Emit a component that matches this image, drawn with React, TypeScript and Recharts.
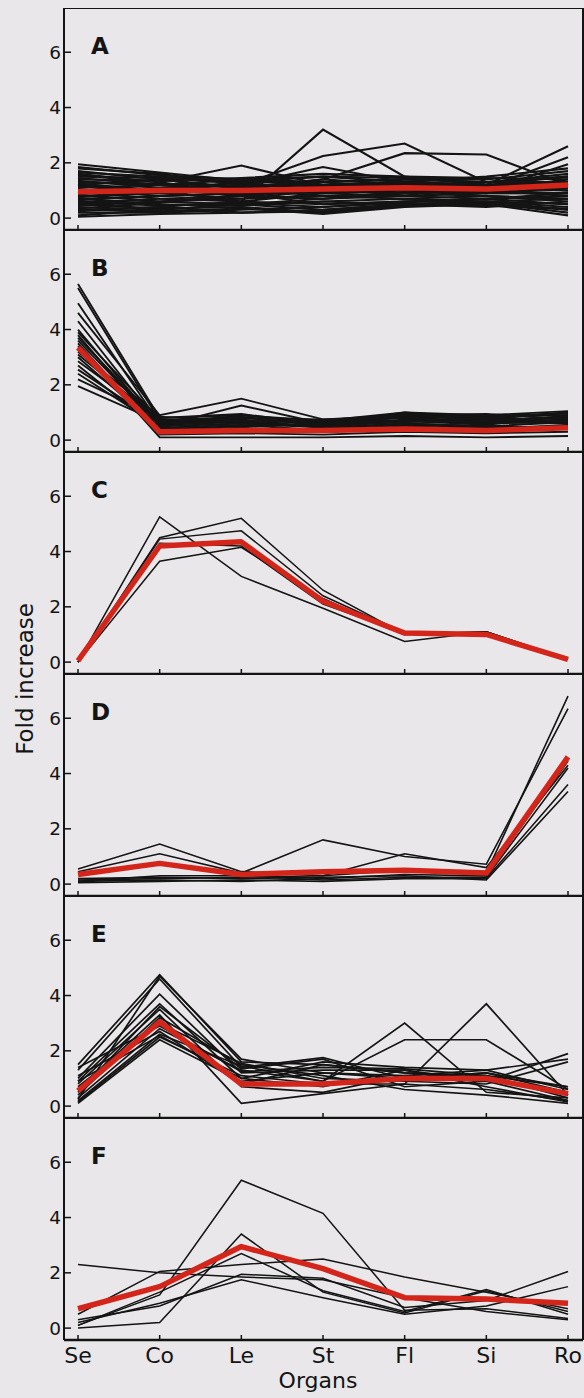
import { LineChart, Line, XAxis, YAxis, ReferenceLine } from "recharts";

const organs = ["Se", "Co", "Le", "St", "Fl", "Si", "Ro"];
const yTicks = [0, 2, 4, 6];

// one row per gene, values in organ order
const linesA = [
  [1.95, 1.65, 1.35, 1.2, 1.3, 1.2, 1.5],
  [1.85, 1.55, 1.4, 1.5, 1.45, 1.4, 1.7],
  [1.8, 1.6, 1.2, 1.85, 1.3, 1.5, 1.8],
  [1.7, 1.4, 1.1, 0.9, 1.0, 0.8, 0.6],
  [1.65, 1.5, 1.3, 1.3, 1.4, 1.3, 1.2],
  [1.55, 1.3, 0.9, 1.1, 0.8, 1.3, 1.5],
  [1.5, 1.45, 1.25, 1.0, 1.1, 0.9, 0.9],
  [1.45, 1.2, 1.0, 1.4, 1.2, 1.1, 1.3],
  [1.4, 1.35, 1.45, 1.6, 1.5, 1.45, 1.4],
  [1.35, 1.1, 0.8, 0.7, 0.9, 1.0, 0.8],
  [1.3, 1.25, 1.15, 1.2, 1.3, 1.2, 1.1],
  [1.25, 1.0, 1.3, 1.0, 1.1, 1.0, 1.4],
  [1.2, 1.4, 1.05, 0.8, 0.7, 0.8, 0.7],
  [1.15, 0.9, 0.7, 1.0, 1.2, 1.3, 1.6],
  [1.1, 1.2, 1.4, 1.3, 1.0, 1.1, 1.0],
  [1.05, 0.8, 0.9, 0.5, 0.6, 0.7, 0.5],
  [1.0, 1.1, 1.2, 1.15, 1.25, 1.15, 1.3],
  [0.95, 0.7, 0.6, 0.9, 1.0, 0.9, 1.1],
  [0.9, 1.0, 1.1, 1.3, 1.4, 1.3, 1.5],
  [0.85, 0.6, 0.5, 0.3, 0.5, 0.6, 0.4],
  [0.8, 0.9, 1.0, 0.9, 0.8, 0.9, 0.9],
  [0.75, 1.05, 1.3, 1.5, 1.3, 1.2, 1.2],
  [0.7, 0.5, 0.45, 0.6, 0.7, 0.6, 0.3],
  [0.65, 0.8, 0.9, 1.1, 1.0, 1.1, 1.0],
  [0.6, 0.45, 0.55, 0.4, 0.6, 0.7, 0.8],
  [0.55, 0.7, 0.8, 0.7, 0.9, 0.8, 0.7],
  [0.5, 0.35, 0.4, 0.2, 0.45, 0.55, 0.2],
  [0.45, 0.6, 0.7, 0.8, 0.9, 1.0, 1.1],
  [0.4, 0.3, 0.5, 0.6, 0.5, 0.4, 0.6],
  [0.35, 0.55, 0.85, 1.0, 1.1, 0.9, 1.3],
  [0.3, 0.25, 0.35, 0.15, 0.4, 0.5, 0.1],
  [0.25, 0.4, 0.6, 0.5, 0.6, 0.6, 0.5],
  [0.2, 0.2, 0.3, 0.4, 0.55, 0.45, 0.35],
  [0.1, 0.3, 0.5, 0.7, 0.8, 0.7, 0.9],
  [0.05, 0.15, 0.2, 0.25, 0.45, 0.5, 0.3],
  [1.2, 1.0, 0.6, 3.2, 1.5, 1.2, 1.0],
  [0.9, 1.1, 1.2, 2.25, 2.7, 1.3, 1.3],
  [1.0, 0.9, 1.1, 1.4, 2.35, 2.3, 1.2],
  [0.7, 0.8, 0.9, 1.1, 1.2, 1.2, 2.6],
  [1.3, 1.2, 1.0, 0.9, 1.3, 1.1, 2.2],
  [0.5, 0.6, 0.8, 1.0, 0.9, 1.0, 1.95],
  [1.6, 1.3, 1.9, 1.2, 1.1, 1.0, 0.9],
  [0.3, 0.4, 0.2, 0.3, 0.5, 0.6, 0.7],
];
const meanA = [0.95, 1.0, 1.0, 1.05, 1.1, 1.05, 1.2];

const linesB = [
  [5.65, 0.8, 0.9, 0.7, 1.0, 0.9, 1.05],
  [5.5, 0.7, 0.8, 0.6, 0.9, 0.8, 1.0],
  [4.95, 0.6, 0.7, 0.65, 0.95, 0.85, 0.9],
  [4.6, 0.9, 1.5, 0.75, 0.8, 0.7, 0.85],
  [4.3, 0.55, 0.65, 0.5, 0.85, 0.75, 1.0],
  [4.0, 0.5, 1.25, 0.6, 0.85, 0.9, 0.95],
  [3.9, 0.75, 0.6, 0.5, 0.9, 0.75, 0.8],
  [3.8, 0.4, 0.5, 0.55, 0.7, 0.6, 0.7],
  [3.7, 0.65, 0.75, 0.45, 0.75, 0.65, 0.75],
  [3.6, 0.55, 0.9, 0.6, 1.0, 0.8, 0.6],
  [3.5, 0.3, 0.4, 0.4, 0.6, 0.5, 0.65],
  [3.4, 0.1, 0.1, 0.1, 0.15, 0.1, 0.15],
  [3.3, 0.2, 0.25, 0.2, 0.3, 0.25, 0.3],
  [3.2, 0.85, 0.65, 0.7, 0.7, 0.55, 0.9],
  [3.1, 0.7, 0.8, 0.75, 0.9, 0.95, 0.75],
  [3.0, 0.45, 0.55, 0.35, 0.55, 0.45, 0.5],
  [2.85, 0.7, 0.85, 0.5, 0.65, 0.7, 0.8],
  [2.7, 0.35, 0.45, 0.3, 0.5, 0.4, 0.55],
  [2.55, 0.6, 0.7, 0.65, 0.8, 0.6, 0.7],
  [2.4, 0.5, 0.6, 0.45, 0.6, 0.5, 0.45],
  [2.2, 0.8, 0.95, 0.55, 0.95, 0.7, 0.85],
  [1.95, 0.65, 0.5, 0.6, 0.7, 0.65, 0.6],
];
const meanB = [3.35, 0.3, 0.35, 0.35, 0.4, 0.35, 0.45];

const linesC = [
  [0, 5.25, 3.1, 1.95, 0.75, 1.1, 0.1],
  [0, 4.5, 5.2, 2.6, 1.0, 1.1, 0.1],
  [0, 4.45, 4.75, 2.4, 1.05, 1.05, 0.1],
  [0, 3.65, 4.15, 2.3, 1.0, 1.1, 0.1],
  [0, 4.3, 4.2, 2.1, 1.05, 1.05, 0.1],
];
const meanC = [0.05, 4.2, 4.35, 2.2, 1.05, 1.0, 0.1];

const linesD = [
  [0.55, 1.45, 0.45, 0.3, 0.5, 0.4, 6.8],
  [0.45, 1.1, 0.4, 1.6, 1.0, 0.72, 6.35],
  [0.15, 0.2, 0.25, 0.3, 1.1, 0.6, 4.3],
  [0.1, 0.15, 0.1, 0.2, 0.35, 0.3, 4.45],
  [0.05, 0.1, 0.15, 0.1, 0.2, 0.2, 3.6],
  [0.2, 0.25, 0.2, 0.25, 0.3, 0.15, 3.35],
  [0.1, 0.3, 0.3, 0.15, 0.25, 0.25, 4.2],
];
const meanD = [0.35, 0.75, 0.35, 0.45, 0.5, 0.4, 4.6];

const linesE = [
  [1.5, 4.75, 1.6, 1.5, 1.2, 1.1, 0.7],
  [1.3, 4.6, 1.4, 1.75, 1.0, 1.2, 0.5],
  [1.0, 4.05, 1.2, 1.3, 1.3, 0.9, 1.9],
  [0.9, 3.7, 1.0, 1.6, 1.4, 1.3, 1.7],
  [0.8, 3.5, 0.7, 0.5, 1.1, 1.0, 0.4],
  [0.6, 3.3, 0.1, 0.45, 0.8, 0.6, 0.2],
  [0.4, 3.2, 1.5, 1.1, 0.6, 0.4, 0.1],
  [0.3, 2.8, 1.3, 0.9, 3.0, 0.5, 0.3],
  [0.2, 2.6, 1.45, 0.9, 2.4, 2.4, 0.6],
  [0.15, 2.5, 1.1, 0.8, 0.8, 3.7, 0.4],
  [0.1, 2.4, 0.9, 1.2, 1.0, 1.2, 0.7],
  [1.4, 2.9, 1.25, 1.4, 1.35, 1.1, 0.3],
  [0.7, 3.0, 1.55, 1.0, 0.9, 0.8, 1.6],
  [1.1, 2.7, 0.8, 1.5, 1.2, 1.0, 0.5],
  [0.5, 3.6, 1.35, 1.7, 0.7, 0.9, 0.2],
  [0.25, 4.7, 1.7, 1.2, 1.1, 1.3, 0.6],
  [0.9, 2.55, 1.0, 0.7, 1.3, 0.7, 0.15],
];
const meanE = [0.55, 3.05, 0.8, 0.8, 1.0, 1.0, 0.45];

const linesF = [
  [0.1, 1.2, 5.35, 4.15, 0.65, 0.7, 0.35],
  [0.0, 0.2, 3.4, 1.3, 0.55, 1.35, 0.6],
  [2.3, 2.0, 1.85, 1.75, 1.1, 0.6, 0.3],
  [0.5, 2.05, 2.3, 2.5, 1.85, 1.3, 0.7],
  [0.3, 0.8, 1.95, 1.8, 0.75, 1.0, 2.05],
  [0.2, 0.9, 1.75, 1.1, 0.5, 0.8, 1.5],
  [0.1, 1.3, 2.7, 1.35, 0.6, 1.4, 0.5],
];
const meanF = [0.7, 1.5, 2.95, 2.15, 1.1, 1.05, 0.9];

const panels = [
  { letter: "A", lines: linesA, mean: meanA, weight: 2.1 },
  { letter: "B", lines: linesB, mean: meanB, weight: 1.9 },
  { letter: "C", lines: linesC, mean: meanC, weight: 1.5 },
  { letter: "D", lines: linesD, mean: meanD, weight: 1.6 },
  { letter: "E", lines: linesE, mean: meanE, weight: 1.7 },
  { letter: "F", lines: linesF, mean: meanF, weight: 1.5 },
];

const PANEL_H = 222;
const TOP = 8;
const Y_MIN = -0.43;
const Y_MAX = 7.6;
const INK = "#141414";
const RED = "#d4251b";
const PAPER = "#e9e7e9";
const FONT = '"DejaVu Sans", Verdana, sans-serif';

function buildRows(lines: number[][], mean: number[]) {
  return organs.map((organ, i) => {
    const row: Record<string, number | string> = { organ, mean: mean[i] };
    lines.forEach((l, k) => {
      row["g" + k] = l[i];
    });
    return row;
  });
}

function Panel({
  letter,
  lines,
  mean,
  weight,
  index,
}: {
  letter: string;
  lines: number[][];
  mean: number[];
  weight: number;
  index: number;
}) {
  const last = index === panels.length - 1;
  const axisH = last ? 60 : 1;
  const rows = buildRows(lines, mean);
  const top = TOP + index * PANEL_H;

  return (
    <div style={{ position: "absolute", left: 0, top }}>
      <LineChart
        width={584}
        height={PANEL_H + axisH}
        data={rows}
        margin={{ top: 0, right: 0, bottom: 0, left: 0 }}
      >
        <XAxis
          dataKey="organ"
          scale="point"
          padding={{ left: 14, right: 15 }}
          height={axisH}
          interval={0}
          axisLine={{ stroke: INK, strokeWidth: 2.5 }}
          tickLine={{ stroke: INK, strokeWidth: 1.5 }}
          tickSize={-5}
          tickMargin={12}
          tick={
            last
              ? { fontSize: 22, fill: INK, fontFamily: FONT }
              : () => <g />
          }
        />
        <YAxis
          domain={[Y_MIN, Y_MAX]}
          ticks={yTicks}
          width={64}
          allowDataOverflow
          axisLine={{ stroke: INK, strokeWidth: 2 }}
          tickLine={{ stroke: INK, strokeWidth: 1.5 }}
          tickSize={-7}
          tickMargin={10}
          tick={{ fontSize: 18.5, fill: INK, fontFamily: FONT }}
        />
        <YAxis
          yAxisId="r"
          orientation="right"
          domain={[Y_MIN, Y_MAX]}
          width={1}
          tick={false}
          tickLine={false}
          axisLine={{ stroke: INK, strokeWidth: 2 }}
        />
        {index === 0 && (
          <ReferenceLine y={Y_MAX} stroke={INK} strokeWidth={2} />
        )}
        {lines.map((_, k) => (
          <Line
            key={k}
            dataKey={"g" + k}
            type="linear"
            stroke={INK}
            strokeWidth={weight}
            dot={false}
            isAnimationActive={false}
          />
        ))}
        <Line
          dataKey="mean"
          type="linear"
          stroke={RED}
          strokeWidth={5.5}
          strokeLinejoin="round"
          dot={false}
          isAnimationActive={false}
        />
      </LineChart>
      <div
        style={{
          position: "absolute",
          left: 91,
          top: 27,
          fontFamily: FONT,
          fontWeight: "bold",
          fontSize: 23,
          lineHeight: "23px",
          color: INK,
        }}
      >
        {letter}
      </div>
    </div>
  );
}

export default function App() {
  return (
    <div
      style={{
        position: "absolute",
        left: 0,
        top: 0,
        width: 584,
        height: 1398,
        overflow: "hidden",
        background: PAPER,
      }}
    >
      {panels.map((p, i) => (
        <Panel key={p.letter} {...p} index={i} />
      ))}
      <div
        style={{
          position: "absolute",
          left: 25,
          top: 679,
          transform: "translate(-50%, -50%) rotate(-90deg)",
          whiteSpace: "nowrap",
          fontFamily: FONT,
          fontSize: 23,
          lineHeight: "23px",
          color: INK,
        }}
      >
        Fold increase
      </div>
      <div
        style={{
          position: "absolute",
          left: 318,
          top: 1370,
          transform: "translateX(-50%)",
          whiteSpace: "nowrap",
          fontFamily: FONT,
          fontSize: 22,
          lineHeight: "22px",
          color: INK,
        }}
      >
        Organs
      </div>
    </div>
  );
}
